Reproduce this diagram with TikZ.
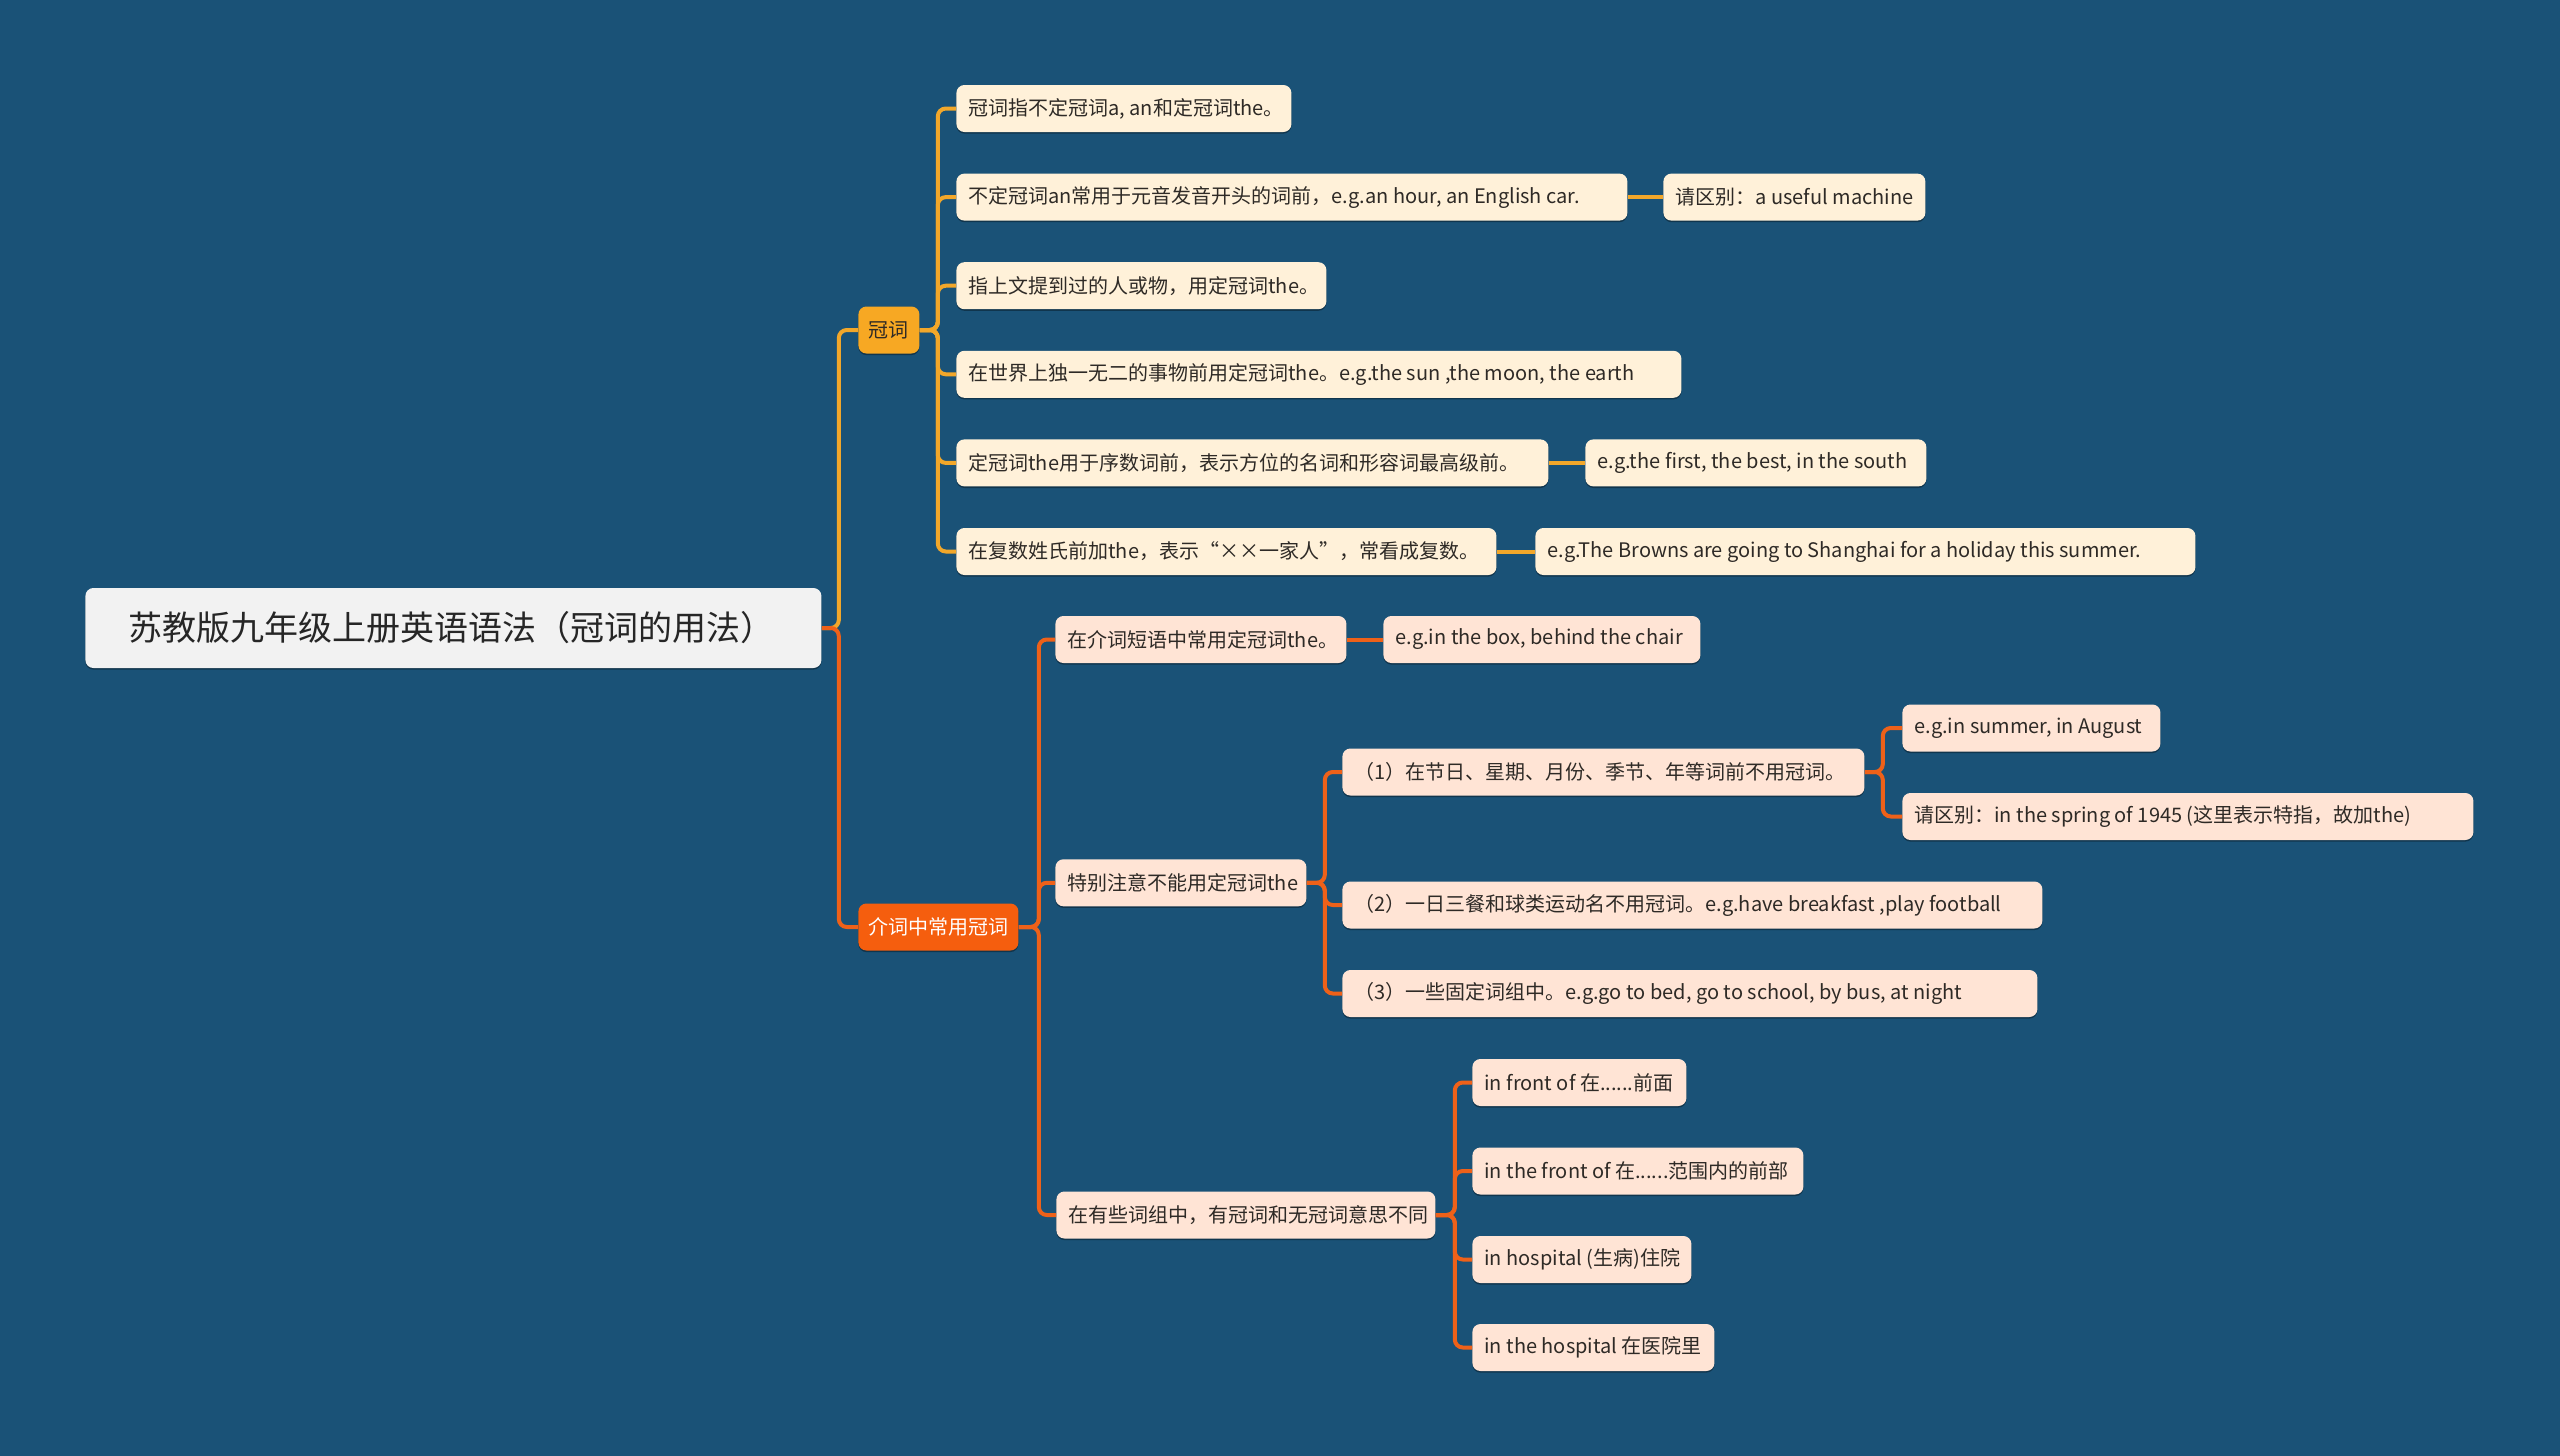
\documentclass[tikz,border=0pt]{standalone}
\usepackage{fontspec}
\setmainfont{Noto Sans CJK SC}
\usetikzlibrary{shadows}
\definecolor{bg}{HTML}{1A5277}
\definecolor{rootfill}{HTML}{F2F2F2}
\definecolor{amberfill}{HTML}{F7A823}
\definecolor{amberline}{HTML}{F2A72A}
\definecolor{cream}{HTML}{FFF1D9}
\definecolor{orgfill}{HTML}{F55E0E}
\definecolor{orgline}{HTML}{EE6119}
\definecolor{peach}{HTML}{FFE4D5}
\definecolor{txt}{HTML}{2E2A26}
\newcommand\lbx[2]{\makebox[#1][l]{#2}}
\begin{document}
\begin{tikzpicture}[x=0.5pt,y=-0.5pt,
  base/.style={rounded corners=4pt, inner xsep=6pt, inner ysep=0pt, minimum height=23.5pt,
    anchor=west, font=\fontsize{10}{12}\selectfont, text=txt,
    drop shadow={shadow xshift=0pt, shadow yshift=-0.8pt, opacity=0.35, fill=black}},
  amb/.style={base, fill=cream},
  org/.style={base, fill=peach},
  aline/.style={draw=amberline, line width=2pt, rounded corners=4pt},
  oline/.style={draw=orgline, line width=2pt, rounded corners=4pt}]
\fill[bg] (0,0) rectangle (2560,1456);
\useasboundingbox (0,0) rectangle (2560,1456);

% root
\node[base, fill=rootfill, inner xsep=21.5pt, minimum height=40pt,
  font=\fontsize{17}{20}\selectfont, text=black!85] (root) at (85,628) {\lbx{325pt}{苏教版九年级上册英语语法（冠词的用法）}};

% level 1
\node[base, fill=amberfill, inner xsep=0pt, minimum width=30.5pt] (k) at (858,330) {冠词};
\node[base, fill=orgfill, inner xsep=0pt, minimum width=80pt, text=white] (j) at (858,927) {介词中常用冠词};

% amber subtree
\node[amb] (a1) at (956,108.5) {\lbx{155.5pt}{冠词指不定冠词a, an和定冠词the。}};
\node[amb] (a2) at (956,197.1) {\lbx{323.5pt}{不定冠词an常用于元音发音开头的词前，e.g.an hour, an English car.}};
\node[amb] (a2x) at (1663,197.1) {\lbx{119pt}{请区别：a useful machine}};
\node[amb] (a3) at (956,285.7) {\lbx{173pt}{指上文提到过的人或物，用定冠词the。}};
\node[amb] (a4) at (956,374.3) {\lbx{350.5pt}{在世界上独一无二的事物前用定冠词the。e.g.the sun ,the moon, the earth}};
\node[amb] (a5) at (956,462.9) {\lbx{284pt}{定冠词the用于序数词前，表示方位的名词和形容词最高级前。}};
\node[amb] (a5x) at (1585,462.9) {\lbx{158.5pt}{e.g.the first, the best, in the south}};
\node[amb] (a6) at (956,551.5) {\lbx{258pt}{在复数姓氏前加the，表示“××一家人”，常看成复数。}};
\node[amb] (a6x) at (1535,551.5) {\lbx{318pt}{e.g.The Browns are going to Shanghai for a holiday this summer.}};

% orange subtree
\node[org] (b1) at (1055,639.5) {\lbx{133.5pt}{在介词短语中常用定冠词the。}};
\node[org] (b1x) at (1383,639.5) {\lbx{146.5pt}{e.g.in the box, behind the chair}};
\node[org] (b2) at (1055,882.8) {\lbx{113.5pt}{特别注意不能用定冠词the}};
\node[org] (b21) at (1342,772) {\lbx{249pt}{（1）在节日、星期、月份、季节、年等词前不用冠词。}};
\node[org] (b211) at (1902,728) {\lbx{117pt}{e.g.in summer, in August}};
\node[org] (b212) at (1902,816.5) {\lbx{273.5pt}{请区别：in the spring of 1945 (这里表示特指，故加the)}};
\node[org] (b22) at (1342,905) {\lbx{338pt}{（2）一日三餐和球类运动名不用冠词。e.g.have breakfast ,play football}};
\node[org] (b23) at (1342,993.5) {\lbx{335.5pt}{（3）一些固定词组中。e.g.go to bed, go to school, by bus, at night}};
\node[org] (b3) at (1056,1215) {\lbx{177.5pt}{在有些词组中，有冠词和无冠词意思不同}};
\node[org] (b31) at (1472,1082.5) {\lbx{95pt}{in front of 在......前面}};
\node[org] (b32) at (1472,1171) {\lbx{153.5pt}{in the front of 在......范围内的前部}};
\node[org] (b33) at (1472,1259.5) {\lbx{97.5pt}{in hospital (生病)住院}};
\node[org] (b34) at (1472,1347.5) {\lbx{109pt}{in the hospital 在医院里}};

% connectors
\path[aline] (root.east) -- ++(17,0) |- (k.west);
\path[oline] (root.east) -- ++(17,0) |- (j.west);
\foreach \c in {a1,a2,a3,a4,a5,a6}{\path[aline] (k.east) -- ++(18,0) |- (\c.west);}
\path[aline] (a2.east) -- (a2x.west);
\path[aline] (a5.east) -- (a5x.west);
\path[aline] (a6.east) -- (a6x.west);
\foreach \c in {b1,b2,b3}{\path[oline] (j.east) -- ++(20,0) |- (\c.west);}
\path[oline] (b1.east) -- (b1x.west);
\foreach \c in {b21,b22,b23}{\path[oline] (b2.east) -- ++(18,0) |- (\c.west);}
\foreach \c in {b211,b212}{\path[oline] (b21.east) -- ++(18,0) |- (\c.west);}
\foreach \c in {b31,b32,b33,b34}{\path[oline] (b3.east) -- ++(19,0) |- (\c.west);}
\end{tikzpicture}
\end{document}
